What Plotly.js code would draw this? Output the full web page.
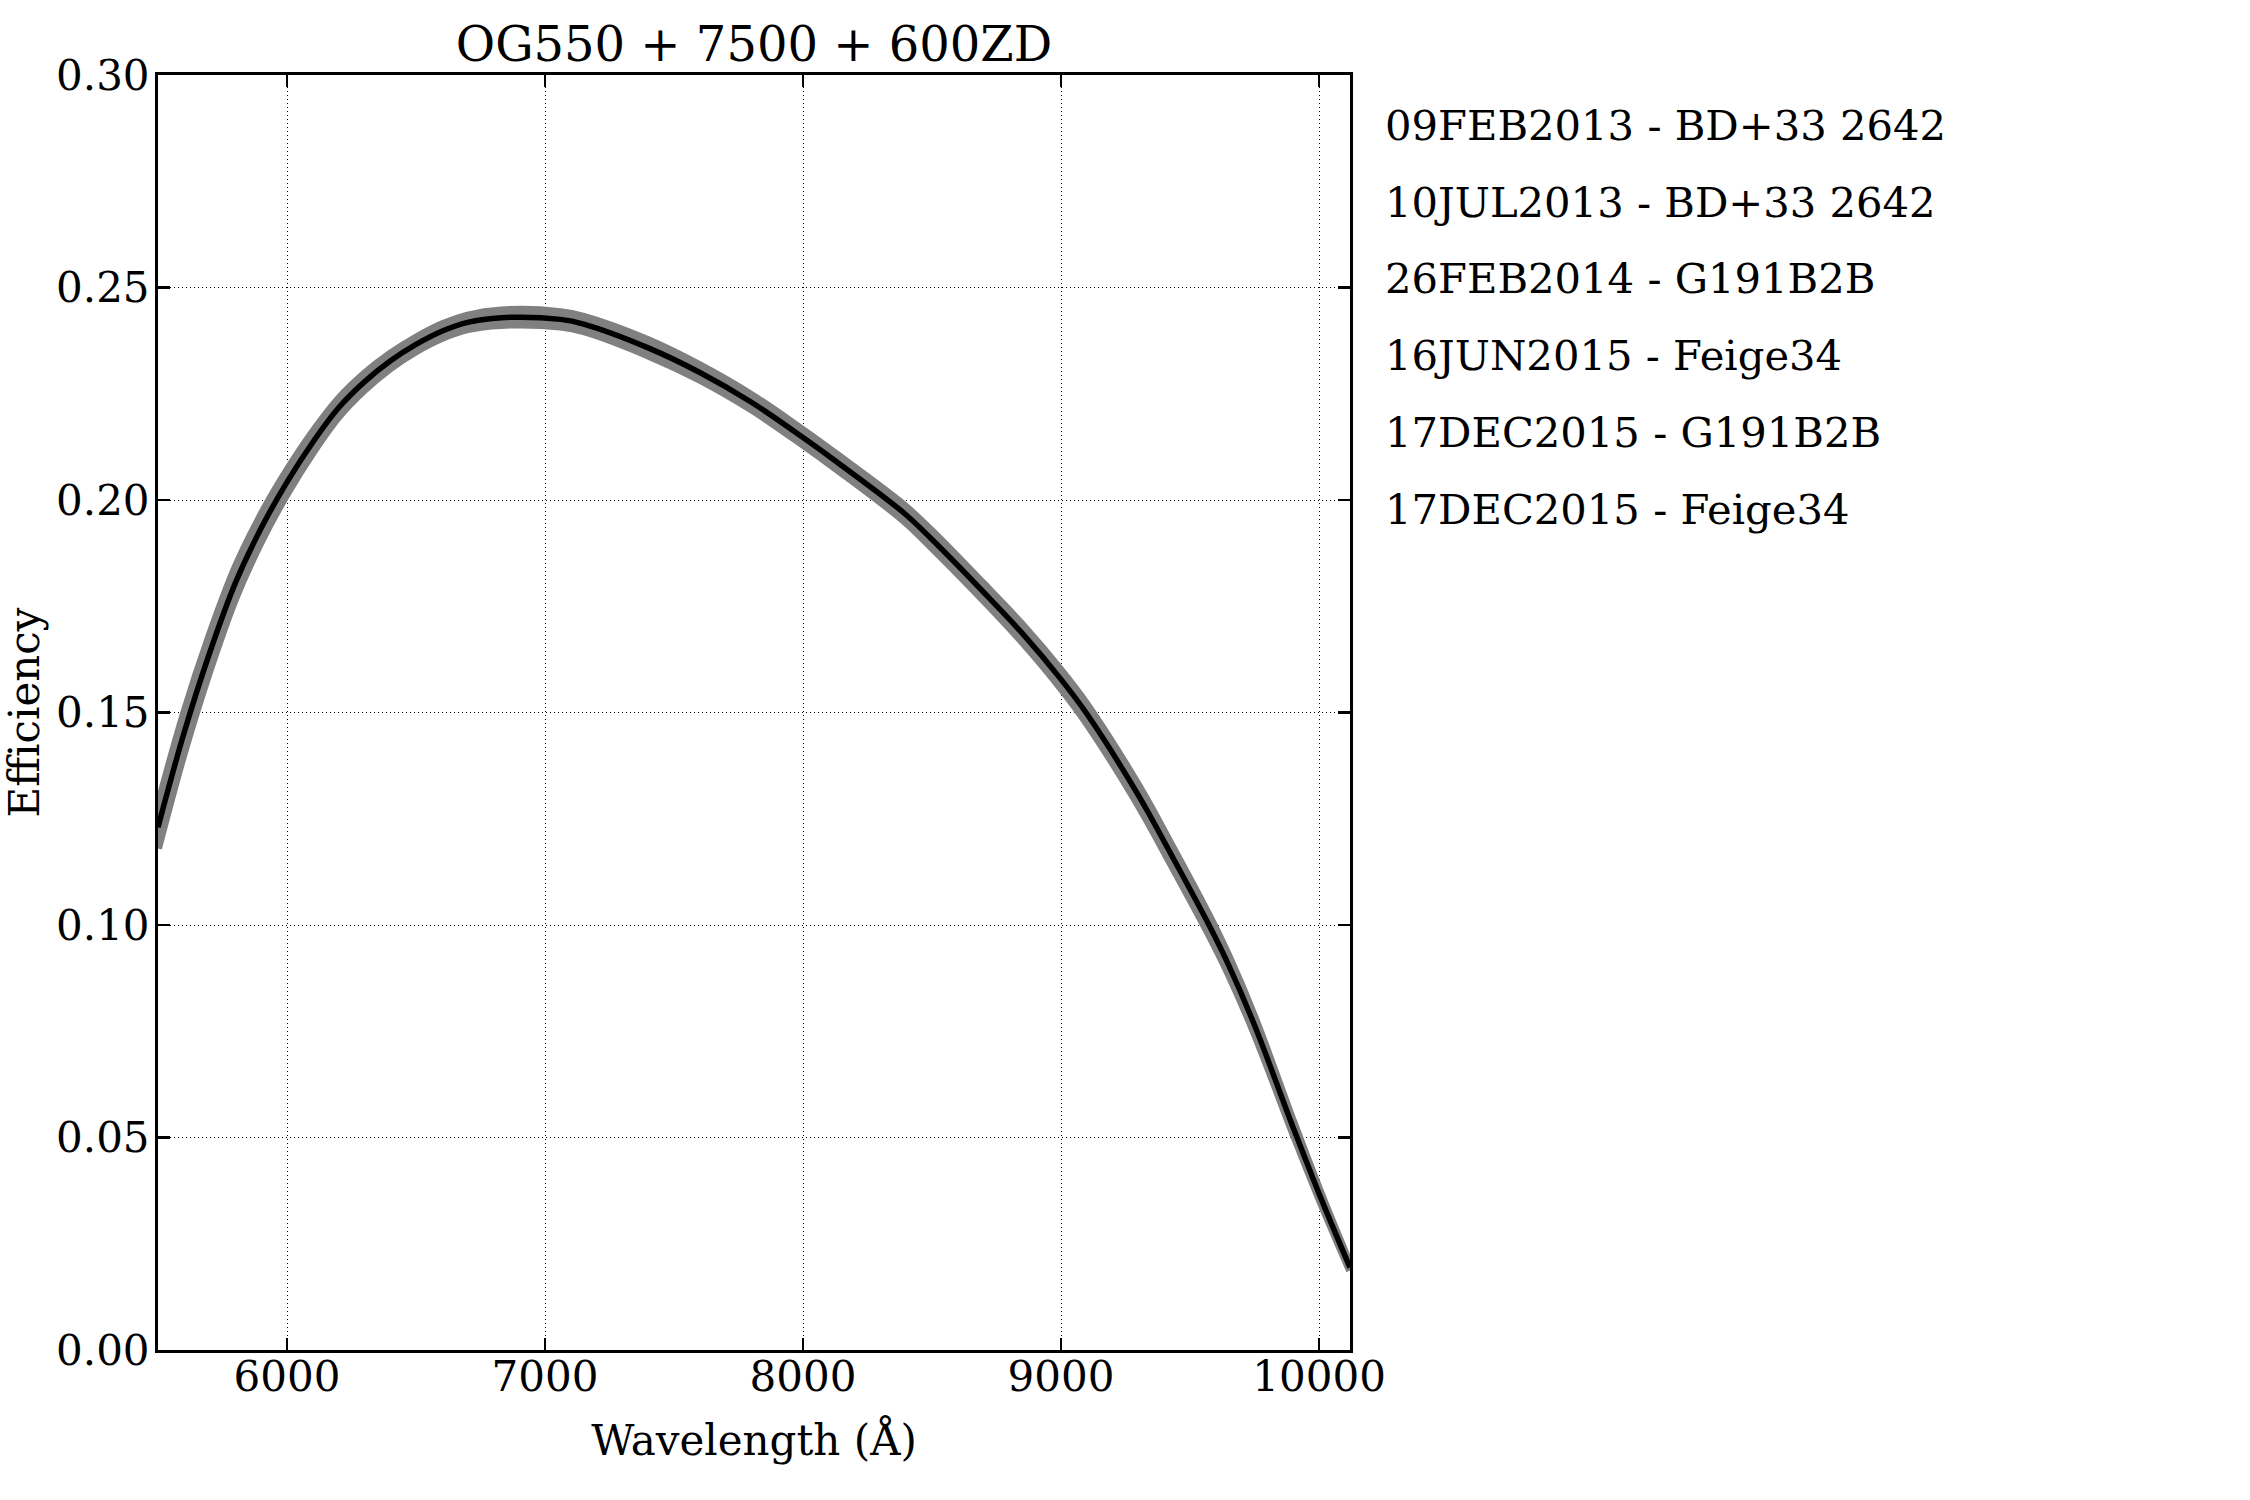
<!DOCTYPE html>
<html>
<head>
<meta charset="utf-8">
<script src="https://cdn.plot.ly/plotly-3.0.1.min.js"></script>
<style>
  html, body { margin: 0; padding: 0; background: #fff; }
  #chart { width: 2250px; height: 1500px; }
</style>
</head>
<body>
<div id="chart"></div>
<script>
// wavelength grid (Angstrom)
var wavelength = [5500, 5600, 5700, 5800, 5900, 6000, 6100, 6200, 6300, 6400,
  6500, 6600, 6700, 6830, 7060, 7150, 7400, 7600, 7800, 8000,
  8130, 8390, 8500, 8700, 8850, 9000, 9100, 9300, 9425, 9575,
  9650, 9750, 9900, 10000, 10120];

// mean efficiency (black line)
var effMean = [0.1230, 0.1450, 0.1640, 0.1805, 0.1934, 0.2042, 0.2136, 0.2217, 0.2278, 0.2327,
  0.2366, 0.2397, 0.2418, 0.2429, 0.2425, 0.2414, 0.2358, 0.2300, 0.2230, 0.2147,
  0.2090, 0.1970, 0.1907, 0.1783, 0.1686, 0.1578, 0.1497, 0.1305, 0.1168, 0.0998,
  0.0905, 0.0764, 0.0523, 0.0368, 0.0194];

// highest and lowest of the individual observations (grey band)
var effHigh = [0.1280, 0.1496, 0.1681, 0.1841, 0.1965, 0.2069, 0.2160, 0.2238, 0.2297, 0.2344,
  0.2382, 0.2413, 0.2434, 0.2446, 0.2442, 0.2431, 0.2376, 0.2317, 0.2247, 0.2164,
  0.2107, 0.1988, 0.1926, 0.1802, 0.1706, 0.1599, 0.1519, 0.1328, 0.1191, 0.1020,
  0.0926, 0.0783, 0.0537, 0.0379, 0.0201];

var effLow = [0.1180, 0.1404, 0.1599, 0.1769, 0.1903, 0.2015, 0.2112, 0.2196, 0.2259, 0.2310,
  0.2350, 0.2381, 0.2402, 0.2412, 0.2408, 0.2397, 0.2340, 0.2283, 0.2213, 0.2130,
  0.2073, 0.1952, 0.1888, 0.1764, 0.1666, 0.1557, 0.1475, 0.1282, 0.1145, 0.0976,
  0.0884, 0.0745, 0.0509, 0.0357, 0.0187];

var obsLabels = [
  '09FEB2013 - BD+33 2642',
  '10JUL2013 - BD+33 2642',
  '26FEB2014 - G191B2B',
  '16JUN2015 - Feige34',
  '17DEC2015 - G191B2B',
  '17DEC2015 - Feige34'
];

var serif = 'DejaVu Serif, serif';
var grey = '#808080';
var smooth = {shape: 'spline', smoothing: 1};

var lowTrace = {
  x: wavelength, y: effLow, type: 'scatter', mode: 'lines',
  line: Object.assign({color: grey, width: 8}, smooth), hoverinfo: 'skip', showlegend: false
};
var highTrace = {
  x: wavelength, y: effHigh, type: 'scatter', mode: 'lines',
  line: Object.assign({color: grey, width: 8}, smooth), fill: 'tonexty', fillcolor: grey,
  hoverinfo: 'skip', showlegend: false
};
var meanTrace = {
  x: wavelength, y: effMean, type: 'scatter', mode: 'lines',
  line: Object.assign({color: '#000000', width: 5.5}, smooth), showlegend: false
};

// observation list to the right of the axes, no line handles
var notes = obsLabels.map(function(txt, i) {
  return {
    text: txt, xref: 'paper', yref: 'paper',
    x: 1.028, y: 0.9605 - i * 0.0602,
    xanchor: 'left', yanchor: 'middle', showarrow: false,
    font: {family: serif, size: 41.7, color: '#000'}
  };
});

var axisCommon = {
  showline: true, linecolor: '#000', linewidth: 3, mirror: 'ticks',
  ticks: 'inside', ticklen: 12, tickwidth: 2.5, tickcolor: '#000',
  showgrid: true, gridcolor: '#000', gridwidth: 1, griddash: '1px,3px',
  zeroline: false,
  tickfont: {family: serif, size: 42, color: '#000'}
};

var layout = {
  width: 2250, height: 1500,
  margin: {l: 158, r: 900, t: 75, b: 150},
  paper_bgcolor: '#fff', plot_bgcolor: '#fff',
  title: {
    text: 'OG550 + 7500 + 600ZD',
    font: {family: serif, size: 48, color: '#000'},
    x: 0.5, xref: 'paper', xanchor: 'center',
    y: 1, yref: 'paper', yanchor: 'bottom', pad: {b: 14}
  },
  xaxis: Object.assign({}, axisCommon, {
    range: [5500, 10120], dtick: 1000, tick0: 6000, tickformat: 'd',
    ticklabelstandoff: -12,
    title: {text: 'Wavelength (Å)', font: {family: serif, size: 42, color: '#000'}, standoff: 26}
  }),
  yaxis: Object.assign({}, axisCommon, {
    range: [0, 0.30], dtick: 0.05, tickformat: '.2f',
    ticklabelstandoff: -3,
    title: {text: 'Efficiency', font: {family: serif, size: 42, color: '#000'}, standoff: 21}
  }),
  annotations: notes
};

Plotly.newPlot('chart', [lowTrace, highTrace, meanTrace], layout, {displayModeBar: false, staticPlot: true});
</script>
</body>
</html>
